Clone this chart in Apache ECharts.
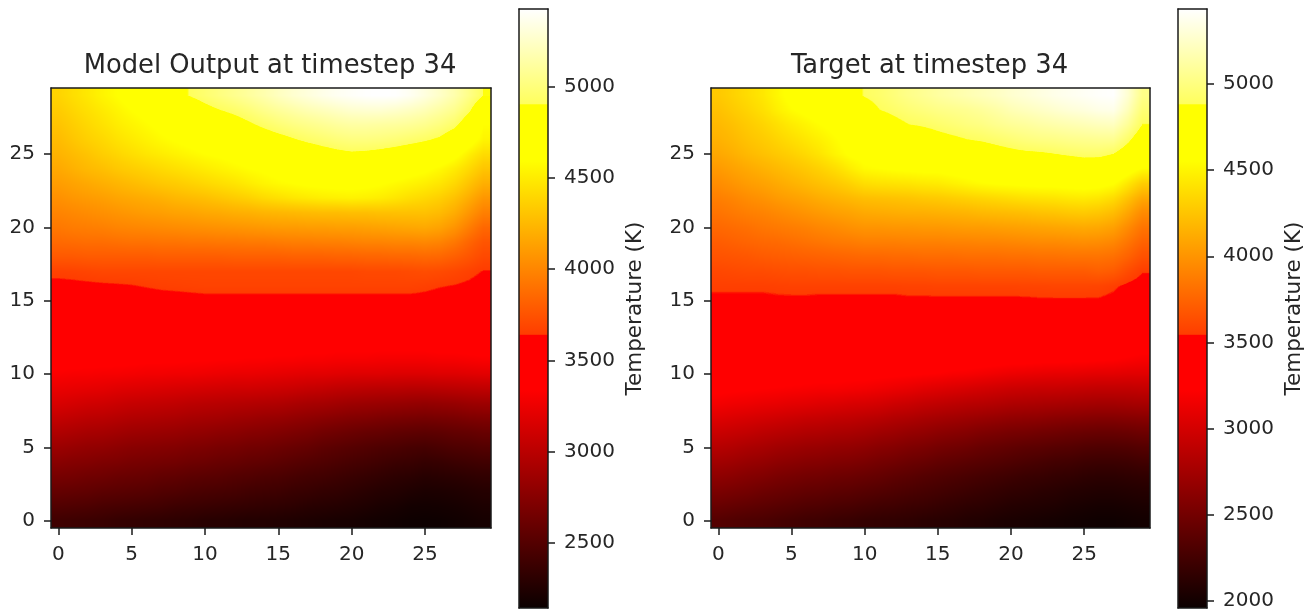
<!DOCTYPE html>
<html>
<head>
<meta charset="utf-8">
<title>Model Output vs Target</title>
<script src="https://cdn.jsdelivr.net/npm/echarts@6/dist/echarts.min.js"></script>
<style>
html,body{margin:0;padding:0;background:#fff;}
#main{width:1312px;height:612px;}
</style>
</head>
<body>
<div id="main"></div>
<script>
var gridCells=["0","1","2","3","4","5","6","7","8","9","10","11","12","13","14","15","16","17","18","19","20","21","22","23","24","25","26","27","28","29"];

// temperature in K, first row is y=0, rows read left to right
var modelRows=[
[2400,2390,2380,2370,2350,2340,2330,2320,2310,2300,2285,2280,2270,2260,2260,2250,2240,2230,2220,2210,2205,2190,2180,2170,2160,2155,2160,2170,2185,2200],
[2490,2480,2470,2450,2440,2430,2420,2410,2390,2380,2370,2360,2350,2340,2330,2320,2310,2290,2280,2270,2255,2240,2220,2210,2190,2185,2190,2200,2215,2230],
[2580,2570,2560,2540,2530,2520,2510,2490,2480,2460,2450,2440,2430,2410,2400,2390,2370,2360,2340,2330,2310,2290,2270,2260,2240,2225,2230,2240,2255,2270],
[2670,2660,2640,2630,2610,2600,2590,2570,2560,2540,2530,2520,2500,2490,2470,2460,2440,2420,2410,2390,2370,2350,2330,2310,2300,2280,2290,2300,2315,2330],
[2760,2740,2730,2710,2700,2680,2670,2660,2650,2630,2620,2600,2590,2570,2560,2540,2520,2500,2480,2460,2440,2420,2400,2380,2370,2350,2360,2380,2395,2410],
[2850,2830,2810,2800,2780,2760,2750,2740,2730,2710,2700,2680,2670,2650,2640,2620,2600,2580,2550,2530,2510,2490,2470,2460,2440,2430,2450,2470,2480,2500],
[2950,2930,2910,2900,2880,2860,2850,2840,2830,2810,2800,2780,2770,2750,2740,2720,2700,2680,2650,2630,2610,2590,2580,2560,2550,2540,2550,2570,2580,2600],
[3050,3030,3010,3000,2980,2960,2950,2940,2930,2910,2900,2890,2870,2860,2840,2830,2810,2790,2770,2750,2730,2720,2700,2690,2680,2670,2680,2690,2710,2720],
[3150,3130,3110,3100,3080,3060,3050,3040,3030,3010,3000,2990,2980,2970,2960,2950,2930,2910,2900,2880,2860,2850,2840,2830,2820,2810,2820,2830,2850,2860],
[3240,3230,3220,3210,3190,3180,3170,3160,3150,3140,3130,3120,3110,3110,3100,3090,3080,3060,3050,3030,3020,3010,3000,3000,2990,2990,3000,3010,3020,3030],
[3320,3310,3310,3300,3300,3290,3280,3280,3270,3270,3260,3250,3240,3240,3230,3220,3210,3200,3200,3190,3180,3180,3180,3170,3170,3170,3180,3180,3190,3200],
[3390,3390,3380,3380,3370,3370,3360,3360,3360,3350,3350,3340,3340,3330,3330,3320,3320,3310,3310,3300,3300,3300,3290,3290,3290,3290,3300,3300,3310,3320],
[3450,3450,3440,3440,3430,3430,3430,3430,3420,3420,3420,3420,3410,3410,3400,3400,3400,3390,3390,3380,3380,3380,3380,3380,3380,3380,3390,3390,3400,3410],
[3500,3500,3490,3490,3480,3480,3480,3480,3470,3470,3470,3470,3470,3460,3460,3460,3460,3460,3450,3450,3450,3450,3450,3450,3450,3450,3460,3460,3470,3480],
[3550,3540,3540,3530,3530,3530,3530,3530,3530,3530,3530,3530,3530,3530,3530,3530,3530,3530,3530,3530,3530,3530,3530,3530,3530,3530,3530,3520,3530,3520],
[3580,3580,3585,3585,3590,3590,3595,3600,3605,3610,3615,3615,3615,3615,3615,3615,3615,3615,3615,3615,3615,3615,3615,3615,3615,3610,3600,3590,3580,3560],
[3610,3615,3620,3625,3630,3635,3645,3655,3660,3665,3670,3670,3670,3670,3670,3670,3670,3670,3670,3670,3670,3670,3670,3670,3670,3660,3645,3635,3620,3600],
[3665,3670,3680,3690,3690,3690,3690,3690,3690,3690,3690,3690,3690,3690,3690,3690,3690,3690,3690,3690,3690,3700,3700,3700,3710,3720,3710,3690,3665,3635],
[3780,3780,3790,3790,3790,3790,3790,3800,3800,3800,3800,3800,3810,3810,3810,3810,3820,3820,3820,3830,3830,3840,3840,3850,3850,3860,3850,3810,3760,3700],
[3860,3870,3880,3880,3890,3900,3900,3910,3910,3920,3920,3930,3930,3940,3940,3950,3960,3960,3970,3970,3980,3990,3990,4000,4000,4010,3990,3930,3840,3760],
[3930,3950,3960,3970,3990,4000,4010,4020,4030,4040,4050,4060,4070,4080,4090,4100,4100,4110,4110,4120,4120,4130,4140,4150,4160,4170,4140,4070,3960,3850],
[3990,4010,4030,4050,4070,4090,4110,4120,4140,4150,4170,4180,4200,4210,4230,4240,4250,4260,4270,4270,4280,4280,4290,4290,4290,4290,4260,4190,4080,3970],
[4050,4080,4100,4120,4150,4170,4190,4210,4240,4260,4280,4310,4340,4370,4410,4440,4470,4490,4510,4520,4530,4520,4500,4470,4430,4400,4360,4290,4190,4080],
[4110,4140,4170,4200,4230,4260,4290,4320,4340,4370,4400,4430,4460,4500,4540,4570,4590,4610,4620,4630,4630,4620,4600,4570,4540,4510,4470,4400,4300,4200],
[4170,4210,4250,4280,4320,4350,4380,4410,4440,4470,4500,4530,4560,4590,4610,4640,4670,4700,4720,4750,4770,4750,4720,4690,4650,4620,4570,4500,4410,4310],
[4220,4260,4300,4350,4390,4430,4470,4500,4530,4560,4590,4610,4640,4670,4690,4720,4750,4790,4830,4860,4880,4870,4850,4820,4790,4760,4720,4640,4520,4420],
[4260,4310,4360,4400,4450,4490,4530,4570,4600,4630,4660,4690,4730,4770,4810,4850,4890,4930,4960,4990,5010,5010,5000,4980,4950,4920,4880,4790,4670,4540],
[4300,4350,4400,4450,4500,4540,4580,4620,4660,4700,4740,4780,4830,4880,4930,4980,5020,5050,5080,5110,5130,5130,5120,5110,5090,5060,5010,4940,4790,4590],
[4340,4390,4440,4490,4540,4590,4630,4680,4730,4790,4850,4900,4940,4990,5050,5100,5140,5180,5210,5240,5270,5280,5280,5260,5230,5190,5130,5060,4930,4720],
[4380,4430,4480,4540,4590,4640,4690,4790,4860,4910,4960,5010,5060,5110,5160,5220,5270,5310,5350,5380,5400,5420,5425,5420,5380,5320,5250,5160,5040,4900]
];

var targetRows=[
[2340,2320,2300,2290,2270,2250,2230,2220,2200,2190,2170,2160,2150,2140,2120,2110,2100,2080,2070,2050,2040,2030,2020,2010,2000,1990,1980,1980,1990,2000],
[2440,2420,2400,2380,2360,2340,2320,2310,2290,2280,2260,2240,2230,2210,2200,2180,2160,2140,2130,2110,2090,2080,2070,2060,2040,2030,2020,2020,2030,2040],
[2540,2520,2500,2470,2450,2430,2410,2400,2380,2370,2350,2330,2310,2290,2270,2250,2230,2210,2190,2170,2150,2140,2120,2110,2090,2080,2070,2070,2080,2090],
[2640,2620,2590,2570,2540,2520,2500,2490,2470,2460,2440,2420,2390,2370,2340,2320,2300,2280,2260,2240,2220,2200,2190,2170,2160,2140,2130,2130,2140,2150],
[2740,2720,2690,2670,2640,2620,2600,2590,2570,2560,2540,2510,2490,2460,2440,2410,2390,2370,2350,2330,2310,2290,2270,2250,2240,2220,2210,2210,2220,2240],
[2840,2820,2790,2770,2740,2720,2700,2690,2670,2660,2640,2610,2590,2560,2540,2510,2490,2470,2440,2420,2400,2380,2370,2350,2340,2320,2310,2310,2320,2340],
[2950,2930,2910,2880,2860,2840,2820,2810,2790,2780,2760,2730,2710,2680,2660,2630,2610,2590,2560,2540,2520,2510,2490,2480,2460,2450,2440,2440,2450,2470],
[3060,3040,3020,3000,2980,2960,2940,2930,2910,2900,2880,2860,2830,2810,2780,2760,2740,2720,2700,2680,2660,2650,2640,2620,2610,2600,2590,2590,2600,2610],
[3170,3150,3140,3120,3110,3090,3080,3060,3050,3030,3020,3000,2970,2950,2920,2900,2880,2860,2850,2830,2810,2800,2790,2780,2770,2760,2750,2750,2760,2770],
[3260,3250,3240,3230,3220,3210,3200,3190,3190,3180,3170,3150,3130,3110,3080,3060,3040,3020,3000,2980,2960,2950,2940,2940,2930,2920,2910,2910,2910,2920],
[3320,3310,3310,3300,3300,3290,3290,3280,3280,3270,3270,3260,3250,3240,3230,3220,3200,3190,3170,3150,3130,3120,3110,3100,3100,3090,3080,3080,3070,3070],
[3370,3370,3360,3360,3350,3350,3350,3350,3340,3340,3340,3340,3330,3330,3330,3320,3310,3300,3290,3280,3270,3270,3260,3260,3250,3250,3240,3230,3210,3190],
[3410,3410,3410,3400,3400,3400,3400,3390,3390,3390,3390,3390,3390,3390,3390,3390,3390,3380,3380,3380,3370,3370,3370,3370,3370,3370,3360,3340,3310,3280],
[3450,3450,3450,3440,3440,3440,3440,3440,3440,3440,3440,3440,3440,3440,3440,3440,3440,3440,3440,3440,3440,3440,3440,3440,3440,3440,3430,3410,3380,3350],
[3490,3490,3490,3490,3490,3490,3490,3480,3480,3480,3480,3480,3490,3490,3490,3490,3490,3490,3490,3490,3490,3490,3490,3490,3490,3490,3490,3470,3440,3400],
[3525,3525,3525,3525,3530,3530,3530,3525,3525,3525,3525,3525,3525,3530,3530,3530,3530,3530,3530,3530,3530,3530,3535,3535,3535,3535,3535,3520,3480,3440],
[3560,3560,3560,3560,3565,3570,3570,3570,3570,3570,3570,3570,3570,3575,3575,3580,3580,3580,3580,3580,3580,3585,3585,3590,3590,3590,3585,3560,3520,3490],
[3600,3610,3620,3620,3630,3640,3640,3650,3650,3660,3660,3660,3670,3670,3670,3680,3680,3680,3690,3690,3690,3690,3700,3700,3700,3700,3720,3700,3620,3550],
[3660,3670,3680,3700,3710,3720,3730,3740,3750,3760,3770,3770,3780,3780,3790,3790,3790,3800,3800,3800,3810,3810,3820,3820,3830,3830,3830,3810,3740,3650],
[3710,3730,3750,3770,3780,3800,3820,3840,3860,3870,3890,3890,3890,3900,3900,3900,3910,3910,3920,3920,3930,3940,3950,3950,3960,3970,3960,3930,3840,3740],
[3770,3790,3810,3840,3860,3880,3900,3930,3950,3980,4000,4000,4010,4010,4020,4020,4030,4040,4040,4050,4060,4070,4080,4090,4100,4110,4100,4060,3950,3830],
[3830,3860,3890,3910,3940,3970,4000,4030,4060,4080,4110,4120,4130,4140,4140,4150,4160,4170,4190,4200,4210,4220,4240,4250,4270,4280,4260,4210,4090,3950],
[3890,3920,3960,3990,4030,4060,4090,4130,4160,4190,4220,4230,4240,4250,4270,4280,4300,4320,4340,4360,4380,4400,4410,4420,4440,4450,4430,4370,4240,4100],
[3960,4000,4040,4070,4110,4150,4190,4230,4270,4320,4380,4400,4410,4420,4440,4450,4480,4510,4540,4560,4570,4580,4590,4590,4600,4610,4600,4560,4430,4290],
[4030,4070,4110,4150,4190,4230,4270,4320,4380,4460,4530,4550,4570,4580,4590,4590,4610,4630,4650,4680,4700,4720,4740,4750,4760,4770,4760,4740,4640,4540],
[4100,4140,4190,4230,4270,4310,4360,4420,4500,4570,4600,4620,4630,4640,4660,4680,4700,4730,4760,4800,4830,4850,4860,4880,4900,4920,4920,4880,4760,4640],
[4150,4190,4240,4280,4330,4380,4430,4480,4540,4600,4660,4680,4710,4740,4780,4820,4850,4880,4900,4930,4960,4990,5010,5020,5040,5050,5060,5060,4920,4750],
[4190,4230,4280,4330,4390,4450,4500,4550,4590,4640,4720,4770,4830,4880,4900,4930,4960,4990,5010,5050,5080,5100,5130,5150,5170,5190,5210,5220,5080,4880],
[4230,4280,4330,4390,4470,4540,4590,4630,4680,4740,4800,4880,4920,4960,4990,5020,5040,5060,5090,5130,5180,5210,5240,5270,5300,5320,5350,5360,5200,4960],
[4270,4320,4370,4430,4510,4590,4640,4700,4760,4820,4890,4930,4980,5030,5070,5110,5140,5170,5200,5230,5270,5300,5330,5360,5380,5400,5420,5430,5280,5030]
];

var modelRange=[2144,5424];
var targetRange=[1959,5435];
var modelTicks=[2500,3000,3500,4000,4500,5000];
var targetTicks=[2000,2500,3000,3500,4000,4500,5000];

var chartTitles=["Model Output at timestep 34","Target at timestep 34"];
var colorbarName="Temperature (K)";

// colour map, [position,colour]
var hotStops=[[0,"#0b0000"],[0.365,"#ff0000"],[0.455,"#ff0000"],[0.457,"#ff3d00"],[0.746,"#ffff00"],[0.84,"#ffff00"],[0.842,"#ffff5e"],[1,"#ffffff"]];

var fontName="DejaVu Sans";
var textColor="#262626";
var lineColor="#1a1a1a";

function buildColorTable(count){
    var table=[];
    for(var i=0;i<count;i++){
        var pos=i/(count-1);
        var j=0;
        while(j<hotStops.length-2&&pos>hotStops[j+1][0]){j++;}
        var t=(pos-hotStops[j][0])/(hotStops[j+1][0]-hotStops[j][0]);
        t=Math.min(1,Math.max(0,t));
        var a=echarts.color.parse(hotStops[j][1]);
        var b=echarts.color.parse(hotStops[j+1][1]);
        table.push([a[0]+(b[0]-a[0])*t,a[1]+(b[1]-a[1])*t,a[2]+(b[2]-a[2])*t]);
    }
    return table;
}
var colorTable=buildColorTable(2048);

function rowsToCells(rows){
    var cells=[];
    for(var r=0;r<rows.length;r++){
        for(var c=0;c<rows[r].length;c++){
            cells.push([c,r,rows[r][c]]);
        }
    }
    return cells;
}

// value between the cell centres, the source image was drawn with smoothing
function sampleRows(rows,colPos,rowPos){
    var cp=Math.min(rows[0].length-1,Math.max(0,colPos));
    var rp=Math.min(rows.length-1,Math.max(0,rowPos));
    var c0=Math.floor(cp),r0=Math.floor(rp);
    var c1=Math.min(c0+1,rows[0].length-1),r1=Math.min(r0+1,rows.length-1);
    var fc=cp-c0,fr=rp-r0;
    return (rows[r0][c0]*(1-fc)+rows[r0][c1]*fc)*(1-fr)+(rows[r1][c0]*(1-fc)+rows[r1][c1]*fc)*fr;
}

function makeRenderItem(rows,range){
    return function(params,api){
        var c=api.value(0),r=api.value(1);
        var center=api.coord([c,r]);
        var size=api.size([1,1]);
        var x0=Math.round(center[0]-size[0]/2),x1=Math.round(center[0]+size[0]/2);
        var y0=Math.round(center[1]-size[1]/2),y1=Math.round(center[1]+size[1]/2);
        var w=x1-x0,h=y1-y0;
        var cellCanvas=document.createElement("canvas");
        cellCanvas.width=w;
        cellCanvas.height=h;
        var ctx=cellCanvas.getContext("2d");
        var img=ctx.createImageData(w,h);
        for(var py=0;py<h;py++){
            for(var px=0;px<w;px++){
                var v=sampleRows(rows,c-0.5+(px+0.5)/w,r+0.5-(py+0.5)/h);
                var idx=Math.round((v-range[0])/(range[1]-range[0])*(colorTable.length-1));
                var col=colorTable[Math.min(colorTable.length-1,Math.max(0,idx))];
                var o=(py*w+px)*4;
                img.data[o]=col[0];
                img.data[o+1]=col[1];
                img.data[o+2]=col[2];
                img.data[o+3]=255;
            }
        }
        ctx.putImageData(img,0,0);
        return {type:"image",silent:true,style:{image:cellCanvas,x:x0,y:y0,width:w,height:h}};
    };
}

function frameAxis(gridIndex,position,type,extra){
    var axis={
        gridIndex:gridIndex,
        type:type,
        position:position,
        z:10,
        axisLine:{show:true,onZero:false,lineStyle:{color:lineColor,width:1.5}},
        axisTick:{show:false},
        axisLabel:{show:false},
        splitLine:{show:false}
    };
    for(var key in extra){axis[key]=extra[key];}
    return axis;
}

function heatAxis(gridIndex,position,labelPadding){
    return frameAxis(gridIndex,position,"category",{
        data:gridCells,
        boundaryGap:true,
        axisTick:{show:true,alignWithLabel:true,interval:4,length:7,lineStyle:{color:lineColor,width:1.5}},
        axisLabel:{show:true,interval:4,margin:position=="left"?16:17,padding:labelPadding,fontFamily:fontName,fontSize:20,color:textColor}
    });
}

function plainHeatAxis(gridIndex,position){
    return frameAxis(gridIndex,position,"category",{data:gridCells,boundaryGap:true});
}

var grids=[
    {left:51,top:88,width:440,height:440},
    {left:519,top:9,width:29,height:599},
    {left:711,top:88,width:439,height:440},
    {left:1178,top:9,width:29,height:599}
];
var xAxes=[],yAxes=[],series=[],titles=[];
var barStops=[];
for(var s=0;s<hotStops.length;s++){
    barStops.unshift({offset:1-hotStops[s][0],color:hotStops[s][1]});
}

function addPanel(panelIndex,rows,range,ticks){
    var heatGrid=panelIndex*2;
    var barGrid=heatGrid+1;
    var xBase=xAxes.length;
    xAxes.push(heatAxis(heatGrid,"bottom",[0,0,0,0]),plainHeatAxis(heatGrid,"top"));
    var yBase=yAxes.length;
    yAxes.push(heatAxis(heatGrid,"left",[3,0,0,0]),plainHeatAxis(heatGrid,"right"));
    series.push({
        type:"custom",
        name:chartTitles[panelIndex],
        xAxisIndex:xBase,
        yAxisIndex:yBase,
        data:rowsToCells(rows),
        encode:{x:0,y:1,tooltip:2},
        silent:true,
        renderItem:makeRenderItem(rows,range)
    });

    var xBarBase=xAxes.length;
    xAxes.push(frameAxis(barGrid,"bottom","category",{data:["bar"],boundaryGap:true}),frameAxis(barGrid,"top","category",{data:["bar"],boundaryGap:true}));
    var yBarBase=yAxes.length;
    yAxes.push(frameAxis(barGrid,"right","value",{
        min:range[0],
        max:range[1],
        name:colorbarName,
        nameLocation:"middle",
        nameRotate:90,
        nameGap:76,
        nameTextStyle:{fontFamily:fontName,fontSize:21.5,color:textColor},
        axisTick:{show:true,length:7,customValues:ticks,lineStyle:{color:lineColor,width:1.5}},
        axisLabel:{show:true,margin:16,padding:[3,0,0,0],customValues:ticks,formatter:function(v){return ""+v;},fontFamily:fontName,fontSize:20,color:textColor}
    }),frameAxis(barGrid,"left","value",{min:range[0],max:range[1]}));
    series.push({
        type:"bar",
        xAxisIndex:xBarBase,
        yAxisIndex:yBarBase,
        data:[range[1]],
        barWidth:"100%",
        silent:true,
        itemStyle:{color:new echarts.graphic.LinearGradient(0,0,0,1,barStops)}
    });

    titles.push({
        text:chartTitles[panelIndex],
        left:grids[heatGrid].left+grids[heatGrid].width/2-1,
        top:53,
        padding:0,
        textAlign:"center",
        textStyle:{fontFamily:fontName,fontSize:25.8,fontWeight:"normal",color:textColor}
    });
}

addPanel(0,modelRows,modelRange,modelTicks);
addPanel(1,targetRows,targetRange,targetTicks);

var myChart=echarts.init(document.getElementById("main"));
myChart.setOption({
    animation:false,
    backgroundColor:"#ffffff",
    title:titles,
    grid:grids,
    xAxis:xAxes,
    yAxis:yAxes,
    series:series
});
</script>
</body>
</html>
